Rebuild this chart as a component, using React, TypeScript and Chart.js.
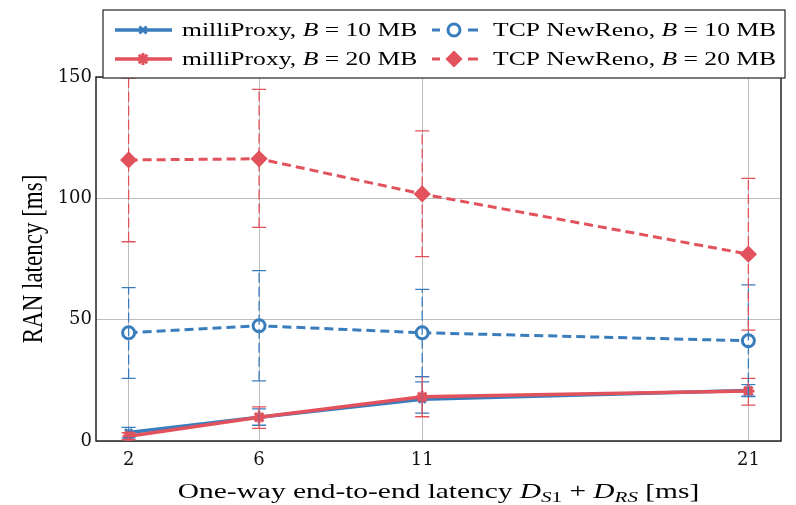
import React, { useEffect, useRef } from 'react';
import { Chart, registerables } from 'chart.js';
import { drawPoint } from 'chart.js/helpers';

Chart.register(...registerables);

// ---------------- data ----------------
const xValues = [2, 6, 11, 21];
const xTickValues = [2, 6, 11, 21];
const yTickStep = 50;
const yMin = 0;
const yMax = 150;
const xMin = 1;
const xMax = 22;

const mp10 = [3.5, 9.8, 17.2, 20.8];
const mp10Low = [1.3, 6.5, 11.5, 18.5];
const mp10High = [5.6, 13.2, 24.4, 23.2];

const mp20 = [2.0, 9.8, 18.2, 20.6];
const mp20Low = [0.6, 5.2, 10.0, 14.8];
const mp20High = [3.4, 14.1, 26.5, 25.8];

const tcp10 = [44.6, 47.5, 44.6, 41.3];
const tcp10Low = [25.8, 24.8, 26.5, 18.3];
const tcp10High = [63.2, 70.2, 62.5, 64.3];

const tcp20 = [115.8, 116.3, 101.8, 77.0];
const tcp20Low = [82.1, 88.0, 76.0, 45.7];
const tcp20High = [149.5, 144.9, 127.8, 108.2];

const seriesNames = ['milliProxy', 'TCP NewReno', 'milliProxy', 'TCP NewReno'];
const bufferSizes = ['10', '10', '20', '20'];
const yTitle = 'RAN latency [ms]';

// ---------------- styles ----------------
const BLUE = '#3a7dbd';
const RED = '#e2525d';
const SERIF = '"Liberation Serif", "Times New Roman", serif';
const TICK_FONT = '"DejaVu Serif", serif';

type Part = { t: string; it?: boolean; sub?: boolean };

function drawRich(ctx: CanvasRenderingContext2D, parts: Part[], x: number, y: number, size: number, sx: number, align: 'left' | 'center') {
  ctx.save();
  ctx.translate(x, y);
  ctx.scale(sx, 1);
  const fontFor = (p: Part) => `${p.it ? 'italic ' : ''}${p.sub ? Math.round(size * 0.7) : size}px ${SERIF}`;
  let total = 0;
  for (const p of parts) {
    ctx.font = fontFor(p);
    total += ctx.measureText(p.t).width;
  }
  let cx = align === 'center' ? -total / 2 : 0;
  ctx.textBaseline = 'alphabetic';
  ctx.textAlign = 'left';
  ctx.fillStyle = '#000';
  for (const p of parts) {
    ctx.font = fontFor(p);
    ctx.fillText(p.t, cx, p.sub ? size * 0.2 : 0);
    cx += ctx.measureText(p.t).width;
  }
  ctx.restore();
}

const errorSets = [
  { low: mp10Low, high: mp10High, color: BLUE, dash: [] as number[] },
  { low: mp20Low, high: mp20High, color: RED, dash: [] as number[] },
  { low: tcp10Low, high: tcp10High, color: BLUE, dash: [10, 4] },
  { low: tcp20Low, high: tcp20High, color: RED, dash: [10, 4] },
];

const framePlugin = {
  id: 'frame',
  beforeDatasetsDraw(chart: any) {
    const { ctx, chartArea: a } = chart;
    ctx.save();
    ctx.strokeStyle = '#222';
    ctx.lineWidth = 1.5;
    ctx.strokeRect(a.left, a.top, a.right - a.left, a.bottom - a.top);
    ctx.restore();
  },
};

const errorBarPlugin = {
  id: 'errorbars',
  afterDatasetsDraw(chart: any) {
    const { ctx } = chart;
    const xs = chart.scales.x;
    const ys = chart.scales.y;
    ctx.save();
    ctx.lineWidth = 1.3;
    errorSets.forEach((s) => {
      ctx.strokeStyle = s.color;
      xValues.forEach((xv, i) => {
        const px = xs.getPixelForValue(xv);
        const pl = ys.getPixelForValue(s.low[i]);
        const ph = ys.getPixelForValue(s.high[i]);
        ctx.setLineDash(s.dash);
        ctx.beginPath();
        ctx.moveTo(px, pl);
        ctx.lineTo(px, ph);
        ctx.stroke();
        ctx.setLineDash([]);
        ctx.beginPath();
        ctx.moveTo(px - 7, pl);
        ctx.lineTo(px + 7, pl);
        ctx.moveTo(px - 7, ph);
        ctx.lineTo(px + 7, ph);
        ctx.stroke();
      });
    });
    ctx.restore();
  },
};

const legendMarkers = [
  { style: 'crossRot', radius: 5, color: BLUE, fill: BLUE, dashed: false },
  { style: 'circle', radius: 6, color: BLUE, fill: '#fff', dashed: true },
  { style: 'star', radius: 6, color: RED, fill: RED, dashed: false },
  { style: 'rectRot', radius: 6.5, color: RED, fill: RED, dashed: true },
];

const legendPlugin = {
  id: 'customLegend',
  afterDraw(chart: any) {
    const { ctx } = chart;
    ctx.save();
    ctx.fillStyle = '#fff';
    ctx.fillRect(103, 10, 682, 68);
    ctx.strokeStyle = '#333';
    ctx.lineWidth = 1.3;
    ctx.strokeRect(103, 10, 682, 68);
    ctx.restore();
    seriesNames.forEach((name, i) => {
      const col = i % 2;
      const row = Math.floor(i / 2);
      const cy = row === 0 ? 30 : 59;
      const m = legendMarkers[i];
      const x1 = col === 0 ? 115 : 432;
      const x2 = col === 0 ? 172 : 478;
      const mx = col === 0 ? 143 : 454;
      const tx = col === 0 ? 182 : 493;
      ctx.save();
      ctx.strokeStyle = m.color;
      ctx.lineWidth = m.dashed ? 3 : 3.5;
      if (m.dashed) {
        ctx.beginPath();
        ctx.moveTo(x1, cy);
        ctx.lineTo(x1 + 8, cy);
        ctx.moveTo(x2 - 10, cy);
        ctx.lineTo(x2, cy);
        ctx.stroke();
      } else {
        ctx.beginPath();
        ctx.moveTo(x1, cy);
        ctx.lineTo(x2, cy);
        ctx.stroke();
      }
      ctx.fillStyle = m.fill;
      ctx.strokeStyle = m.color;
      ctx.lineWidth = 3;
      drawPoint(ctx, { pointStyle: m.style, radius: m.radius, rotation: 0, borderWidth: 3 } as any, mx, cy);
      ctx.restore();
      drawRich(
        ctx,
        [
          { t: name + ', ' },
          { t: 'B', it: true },
          { t: ' = ' + bufferSizes[i] + ' MB' },
        ],
        tx,
        row === 0 ? 35.8 : 64.5,
        19.7,
        1.3,
        'left'
      );
    });
  },
};

const titlePlugin = {
  id: 'axisTitles',
  afterDraw(chart: any) {
    const { ctx, chartArea: a } = chart;
    drawRich(
      ctx,
      [
        { t: 'One-way end-to-end latency ' },
        { t: 'D', it: true },
        { t: 'S', it: true, sub: true },
        { t: '1', sub: true },
        { t: ' + ' },
        { t: 'D', it: true },
        { t: 'RS', it: true, sub: true },
        { t: ' [ms]' },
      ],
      (a.left + a.right) / 2,
      497.5,
      21,
      1.4,
      'center'
    );
    ctx.save();
    ctx.translate(41.5, (a.top + a.bottom) / 2);
    ctx.rotate(-Math.PI / 2);
    ctx.scale(1, 1.3);
    ctx.font = `23px ${SERIF}`;
    ctx.fillStyle = '#000';
    ctx.textAlign = 'center';
    ctx.textBaseline = 'alphabetic';
    ctx.fillText(yTitle, 0, 0);
    ctx.restore();
  },
};

function makeDataset(label: string, data: number[], color: string, dashed: boolean, style: string, radius: number, fill: string, order: number) {
  return {
    label,
    data: xValues.map((x, i) => ({ x, y: data[i] })),
    borderColor: color,
    backgroundColor: color,
    borderWidth: dashed ? 3 : 3.5,
    borderDash: dashed ? [9, 5] : [],
    pointStyle: style,
    pointRadius: radius,
    pointBorderWidth: 3,
    pointBorderColor: color,
    pointBackgroundColor: fill,
    fill: false,
    tension: 0,
    order,
  };
}

export default function App() {
  const ref = useRef<HTMLCanvasElement | null>(null);
  useEffect(() => {
    if (!ref.current) return;
    const chart = new Chart(ref.current, {
      type: 'line',
      data: {
        datasets: [
          makeDataset('milliProxy, B = 10 MB', mp10, BLUE, false, 'crossRot', 5, BLUE, 3),
          makeDataset('TCP NewReno, B = 10 MB', tcp10, BLUE, true, 'circle', 6, '#fff', 1),
          makeDataset('milliProxy, B = 20 MB', mp20, RED, false, 'star', 6, RED, 2),
          makeDataset('TCP NewReno, B = 20 MB', tcp20, RED, true, 'rectRot', 6.5, RED, 0),
        ] as any,
      },
      options: {
        responsive: false,
        animation: false,
        devicePixelRatio: 1,
        layout: { padding: { left: 0, right: 15, top: 77, bottom: 34 } },
        plugins: { legend: { display: false }, tooltip: { enabled: false } },
        scales: {
          x: {
            type: 'linear',
            min: xMin,
            max: xMax,
            afterBuildTicks: (s: any) => {
              s.ticks = xTickValues.map((v) => ({ value: v }));
            },
            afterFit: (s: any) => {
              s.height = 30;
            },
            grid: { color: '#bdbdbd', lineWidth: 1, drawTicks: false },
            border: { display: false },
            ticks: {
              padding: 9,
              color: '#111',
              font: { family: TICK_FONT, size: 18 },
              callback: (v: any) => String(v),
            },
          },
          y: {
            type: 'linear',
            min: yMin,
            max: yMax,
            afterFit: (s: any) => {
              s.width = 96;
            },
            grid: { color: '#bdbdbd', lineWidth: 1, drawTicks: false },
            border: { display: false },
            ticks: {
              stepSize: yTickStep,
              padding: 4,
              color: '#111',
              font: { family: TICK_FONT, size: 18 },
            },
          },
        },
      } as any,
      plugins: [framePlugin, errorBarPlugin, legendPlugin, titlePlugin],
    });
    return () => chart.destroy();
  }, []);
  return (
    <div style={{ position: 'fixed', left: 0, top: 0, width: 796, height: 505, background: '#fff' }}>
      <canvas ref={ref} width={796} height={505} />
    </div>
  );
}
